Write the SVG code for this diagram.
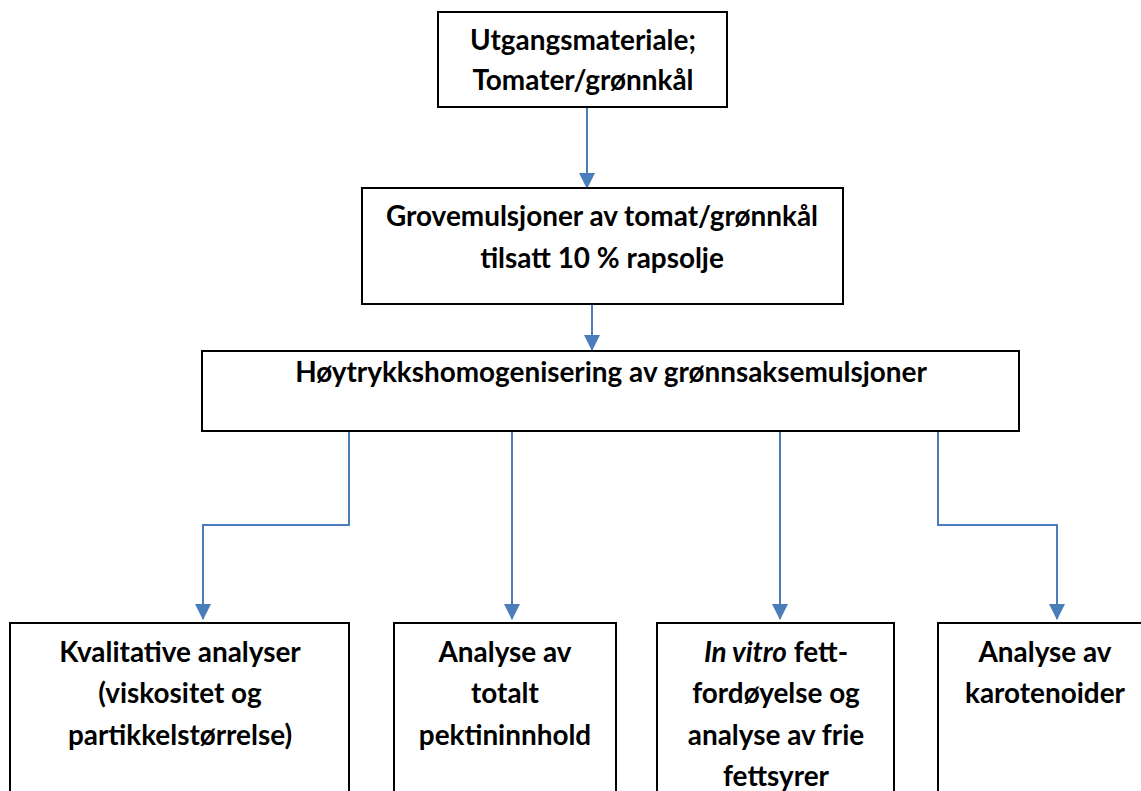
<svg xmlns="http://www.w3.org/2000/svg" width="1141" height="791" viewBox="0 0 1141 791">
<style>
.box{fill:#fff;stroke:#000;stroke-width:2}
.t{font-family:Lato,"Liberation Sans",sans-serif;font-weight:bold;font-size:27.9px;fill:#000;text-anchor:middle}
.c{fill:none;stroke:#4a7ebb;stroke-width:2}
</style>
<defs>
<marker id="ah" markerWidth="8" markerHeight="8" refX="7.5" refY="4" orient="auto" markerUnits="strokeWidth" viewBox="0 0 8 8">
<path d="M0,0 L8,4 L0,8 z" fill="#4a7ebb"/>
</marker>
</defs>
<rect width="1141" height="791" fill="#fff"/>
<g id="connectors">
<path class="c" d="M587,107 V188" marker-end="url(#ah)"/>
<path class="c" d="M592,304 V350" marker-end="url(#ah)"/>
<path class="c" d="M349,431 V525 H203 V619" marker-end="url(#ah)"/>
<path class="c" d="M512,431 V619" marker-end="url(#ah)"/>
<path class="c" d="M780,431 V619" marker-end="url(#ah)"/>
<path class="c" d="M938,431 V525 H1057 V619" marker-end="url(#ah)"/>
</g>
<g id="n1">
<rect class="box" x="438" y="12" width="289" height="95"/>
<text class="t" x="583" y="50">Utgangsmateriale;</text>
<text class="t" x="583" y="90">Tomater/grønnkål</text>
</g>
<g id="n2">
<rect class="box" x="362" y="188" width="481" height="116"/>
<text class="t" x="602" y="226">Grovemulsjoner av tomat/grønnkål</text>
<text class="t" x="602" y="268">tilsatt 10 % rapsolje</text>
</g>
<g id="n3">
<rect class="box" x="202" y="351" width="817" height="80"/>
<text class="t" x="611" y="382">Høytrykkshomogenisering av grønnsaksemulsjoner</text>
</g>
<g id="n4">
<rect class="box" x="10" y="623" width="339" height="180"/>
<text class="t" x="180" y="662">Kvalitative analyser</text>
<text class="t" x="180" y="703">(viskositet og</text>
<text class="t" x="180" y="745">partikkelstørrelse)</text>
</g>
<g id="n5">
<rect class="box" x="394" y="623" width="222" height="180"/>
<text class="t" x="505" y="662">Analyse av</text>
<text class="t" x="505" y="703">totalt</text>
<text class="t" x="505" y="745">pektininnhold</text>
</g>
<g id="n6">
<rect class="box" x="657" y="623" width="237" height="180"/>
<text class="t" x="776" y="662"><tspan font-style="italic">In vitro</tspan> fett-</text>
<text class="t" x="776" y="703">fordøyelse og</text>
<text class="t" x="776" y="745">analyse av frie</text>
<text class="t" x="776" y="786">fettsyrer</text>
</g>
<g id="n7">
<rect class="box" x="938" y="623" width="215" height="180"/>
<text class="t" x="1045" y="662">Analyse av</text>
<text class="t" x="1045" y="703">karotenoider</text>
</g>
</svg>
